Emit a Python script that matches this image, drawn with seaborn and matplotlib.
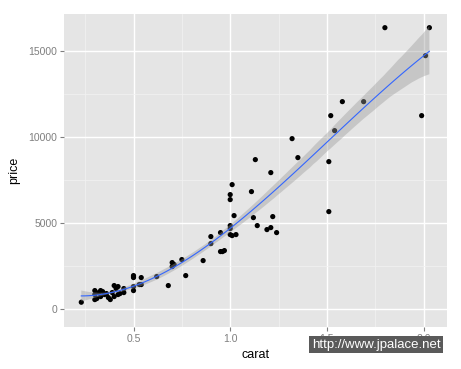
import numpy as np
import pandas as pd
import matplotlib
matplotlib.use("Agg")
import matplotlib.pyplot as plt
import seaborn as sns
from matplotlib.ticker import MultipleLocator

# diamonds sample
carat = [0.23, 0.30, 0.30, 0.30, 0.31, 0.32, 0.33, 0.33, 0.34, 0.35, 0.36, 0.37,
         0.38, 0.39, 0.40, 0.40, 0.41, 0.42, 0.42, 0.43, 0.45, 0.45, 0.50, 0.50,
         0.50, 0.50, 0.50, 0.53, 0.54, 0.54, 0.62, 0.68, 0.70, 0.70, 0.71, 0.75,
         0.77, 0.86, 0.90, 0.90, 0.95, 0.95, 0.96, 0.97, 1.00, 1.00, 1.00, 1.00,
         1.00, 1.01, 1.01, 1.02, 1.03, 1.11, 1.12, 1.13, 1.14, 1.19, 1.21, 1.21,
         1.22, 1.24, 1.32, 1.35, 1.51, 1.51, 1.52, 1.54, 1.58, 1.69, 1.80,
         1.99, 2.01, 2.03]
price = [407, 1085, 853, 560, 620, 969, 736, 1085, 1027, 853, 911, 678,
         562, 969, 1376, 736, 1202, 1318, 853, 911, 1202, 969, 1957, 1841,
         1900, 1318, 1085, 1434, 1434, 1841, 1899, 1376, 2480, 2713, 2597, 2888,
         1957, 2829, 4225, 3818, 4457, 3353, 3353, 3411, 6667, 6376, 4864, 4690,
         4341, 7248, 4283, 5446, 4341, 6841, 5329, 8702, 4864, 4632, 7946, 4748,
         5388, 4457, 9922, 8818, 8585, 5678, 11260, 10388, 12074, 12074, 16376,
         11260, 14748, 16376]

df = pd.DataFrame({"carat": carat, "price": price})

plt.rcParams["font.family"] = ["Liberation Sans", "DejaVu Sans"]

fig = plt.figure(figsize=(4.61, 3.69), dpi=100)
ax = fig.add_axes([0.139, 0.114, 0.831, 0.848])
ax.set_facecolor("#E5E5E5")

ax.xaxis.set_major_locator(MultipleLocator(0.5))
ax.xaxis.set_minor_locator(MultipleLocator(0.25))
ax.yaxis.set_major_locator(MultipleLocator(5000))
ax.yaxis.set_minor_locator(MultipleLocator(2500))
ax.grid(which="major", color="white", linewidth=1.0)
ax.grid(which="minor", color="#F2F2F2", linewidth=0.5)
ax.set_axisbelow(True)

sns.scatterplot(data=df, x="carat", y="price", color="black", s=14,
                edgecolor="none", ax=ax, zorder=3)
sns.regplot(data=df, x="carat", y="price", order=3, scatter=False, ci=68,
            color="#3366FF", line_kws={"linewidth": 0.8, "zorder": 5}, ax=ax)

# restyle the confidence band like ggplot's grey ribbon
for coll in ax.collections[1:]:
    coll.set_facecolor("#999999")
    coll.set_alpha(0.4)
    coll.set_edgecolor("none")
    coll.set_zorder(4)

ax.set_xlim(0.141, 2.122)
ax.set_ylim(-1030, 17170)

for sp in ax.spines.values():
    sp.set_visible(False)
ax.tick_params(which="major", length=3, width=0.8, color="#7F7F7F",
               labelcolor="#7F7F7F", labelsize=7.5, pad=2)
ax.tick_params(which="minor", length=0)
ax.set_xlabel("carat", fontsize=9, labelpad=4)
ax.set_ylabel("price", fontsize=9, labelpad=6)

# watermark box as in the source image
fig.text(0.956, 0.066, "http://www.jpalace.net", ha="right", va="center",
         fontsize=9.5, color="white",
         bbox=dict(boxstyle="square,pad=0.2", facecolor="#5A5A5A", edgecolor="none"))

fig.savefig("out.png", dpi=100)
